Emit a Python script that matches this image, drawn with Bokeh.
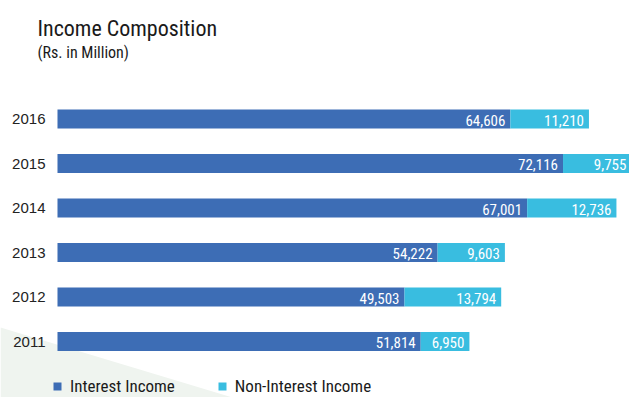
from bokeh.plotting import figure
from bokeh.models import (ColumnDataSource, Range1d, Label, Legend, LegendItem,
                          PolyAnnotation)
from bokeh.core.properties import value
from bokeh.embed import file_html
from bokeh.resources import INLINE

# Income composition, Rs. in Million
years = [2016, 2015, 2014, 2013, 2012, 2011]
interest_income = [64606, 72116, 67001, 54222, 49503, 51814]
non_interest_income = [11210, 9755, 12736, 9603, 13794, 6950]

COND = "Liberation Sans Narrow, Roboto Condensed, Roboto, sans-serif"
BLUE = "#3d6db5"
CYAN = "#39bde0"

W, H = 629, 397
p = figure(width=W, height=H, output_backend="svg", toolbar_location=None,
           x_range=Range1d(-8130, 81600), y_range=Range1d(2009.742, 2018.663),
           min_border=0, outline_line_color=None, background_fill_color="white",
           border_fill_color="white")
p.xaxis.visible = False
p.yaxis.visible = False
p.grid.visible = False

# soft background wedge in the lower-left corner
p.add_layout(PolyAnnotation(xs=[0, 0, 232], ys=[70, 0, 0], xs_units="screen",
                            ys_units="screen", fill_color="#eff4ef",
                            fill_alpha=1, line_color=None, level="underlay"))

totals = [a + b for a, b in zip(interest_income, non_interest_income)]
src = ColumnDataSource(dict(
    year=years,
    ii=interest_income,
    tot=totals,
    ii_lbl=[f"{v:,}" for v in interest_income],
    nii_lbl=[f"{v:,}" for v in non_interest_income],
    ylbl=[str(y) for y in years],
    zero=[0] * len(years),
))

r1 = p.hbar(y="year", left="zero", right="ii", height=0.427, source=src,
            fill_color=BLUE, line_color=None)
r2 = p.hbar(y="year", left="ii", right="tot", height=0.427, source=src,
            fill_color=CYAN, line_color=None)

# value labels inside each segment
p.text(x="ii", y="year", text="ii_lbl", source=src, text_align="right",
       text_baseline="middle", x_offset=-5, y_offset=1, text_color="white",
       text_font=value(COND), text_font_size="15px")
p.text(x="tot", y="year", text="nii_lbl", source=src, text_align="right",
       text_baseline="middle", x_offset=-5, y_offset=1, text_color="white",
       text_font=value(COND), text_font_size="15px")

# year labels to the left of the bars
p.text(x="zero", y="year", text="ylbl", source=src, text_align="right",
       text_baseline="middle", x_offset=-12, y_offset=0, text_color="#222222",
       text_font=value("Liberation Sans"), text_font_size="15px")

p.add_layout(Label(x=37, y=H - 40, x_units="screen", y_units="screen",
                   text="Income Composition", text_font=COND,
                   text_font_size="22px", text_color="#1a1a1a"))
p.add_layout(Label(x=37, y=H - 61, x_units="screen", y_units="screen",
                   text="(Rs. in Million)", text_font=COND,
                   text_font_size="16px", text_color="#1a1a1a"))

legend = Legend(items=[LegendItem(label="Interest Income", renderers=[r1]),
                       LegendItem(label="Non-Interest Income", renderers=[r2])],
                orientation="horizontal", location=(52, 1), padding=0,
                margin=0, spacing=42, glyph_width=10, glyph_height=10,
                label_standoff=8, label_text_font=COND,
                label_text_font_size="17px", label_text_color="#1a1a1a",
                border_line_color=None, background_fill_alpha=0)
p.add_layout(legend)

open("out.html", "w").write(file_html(p, INLINE))
